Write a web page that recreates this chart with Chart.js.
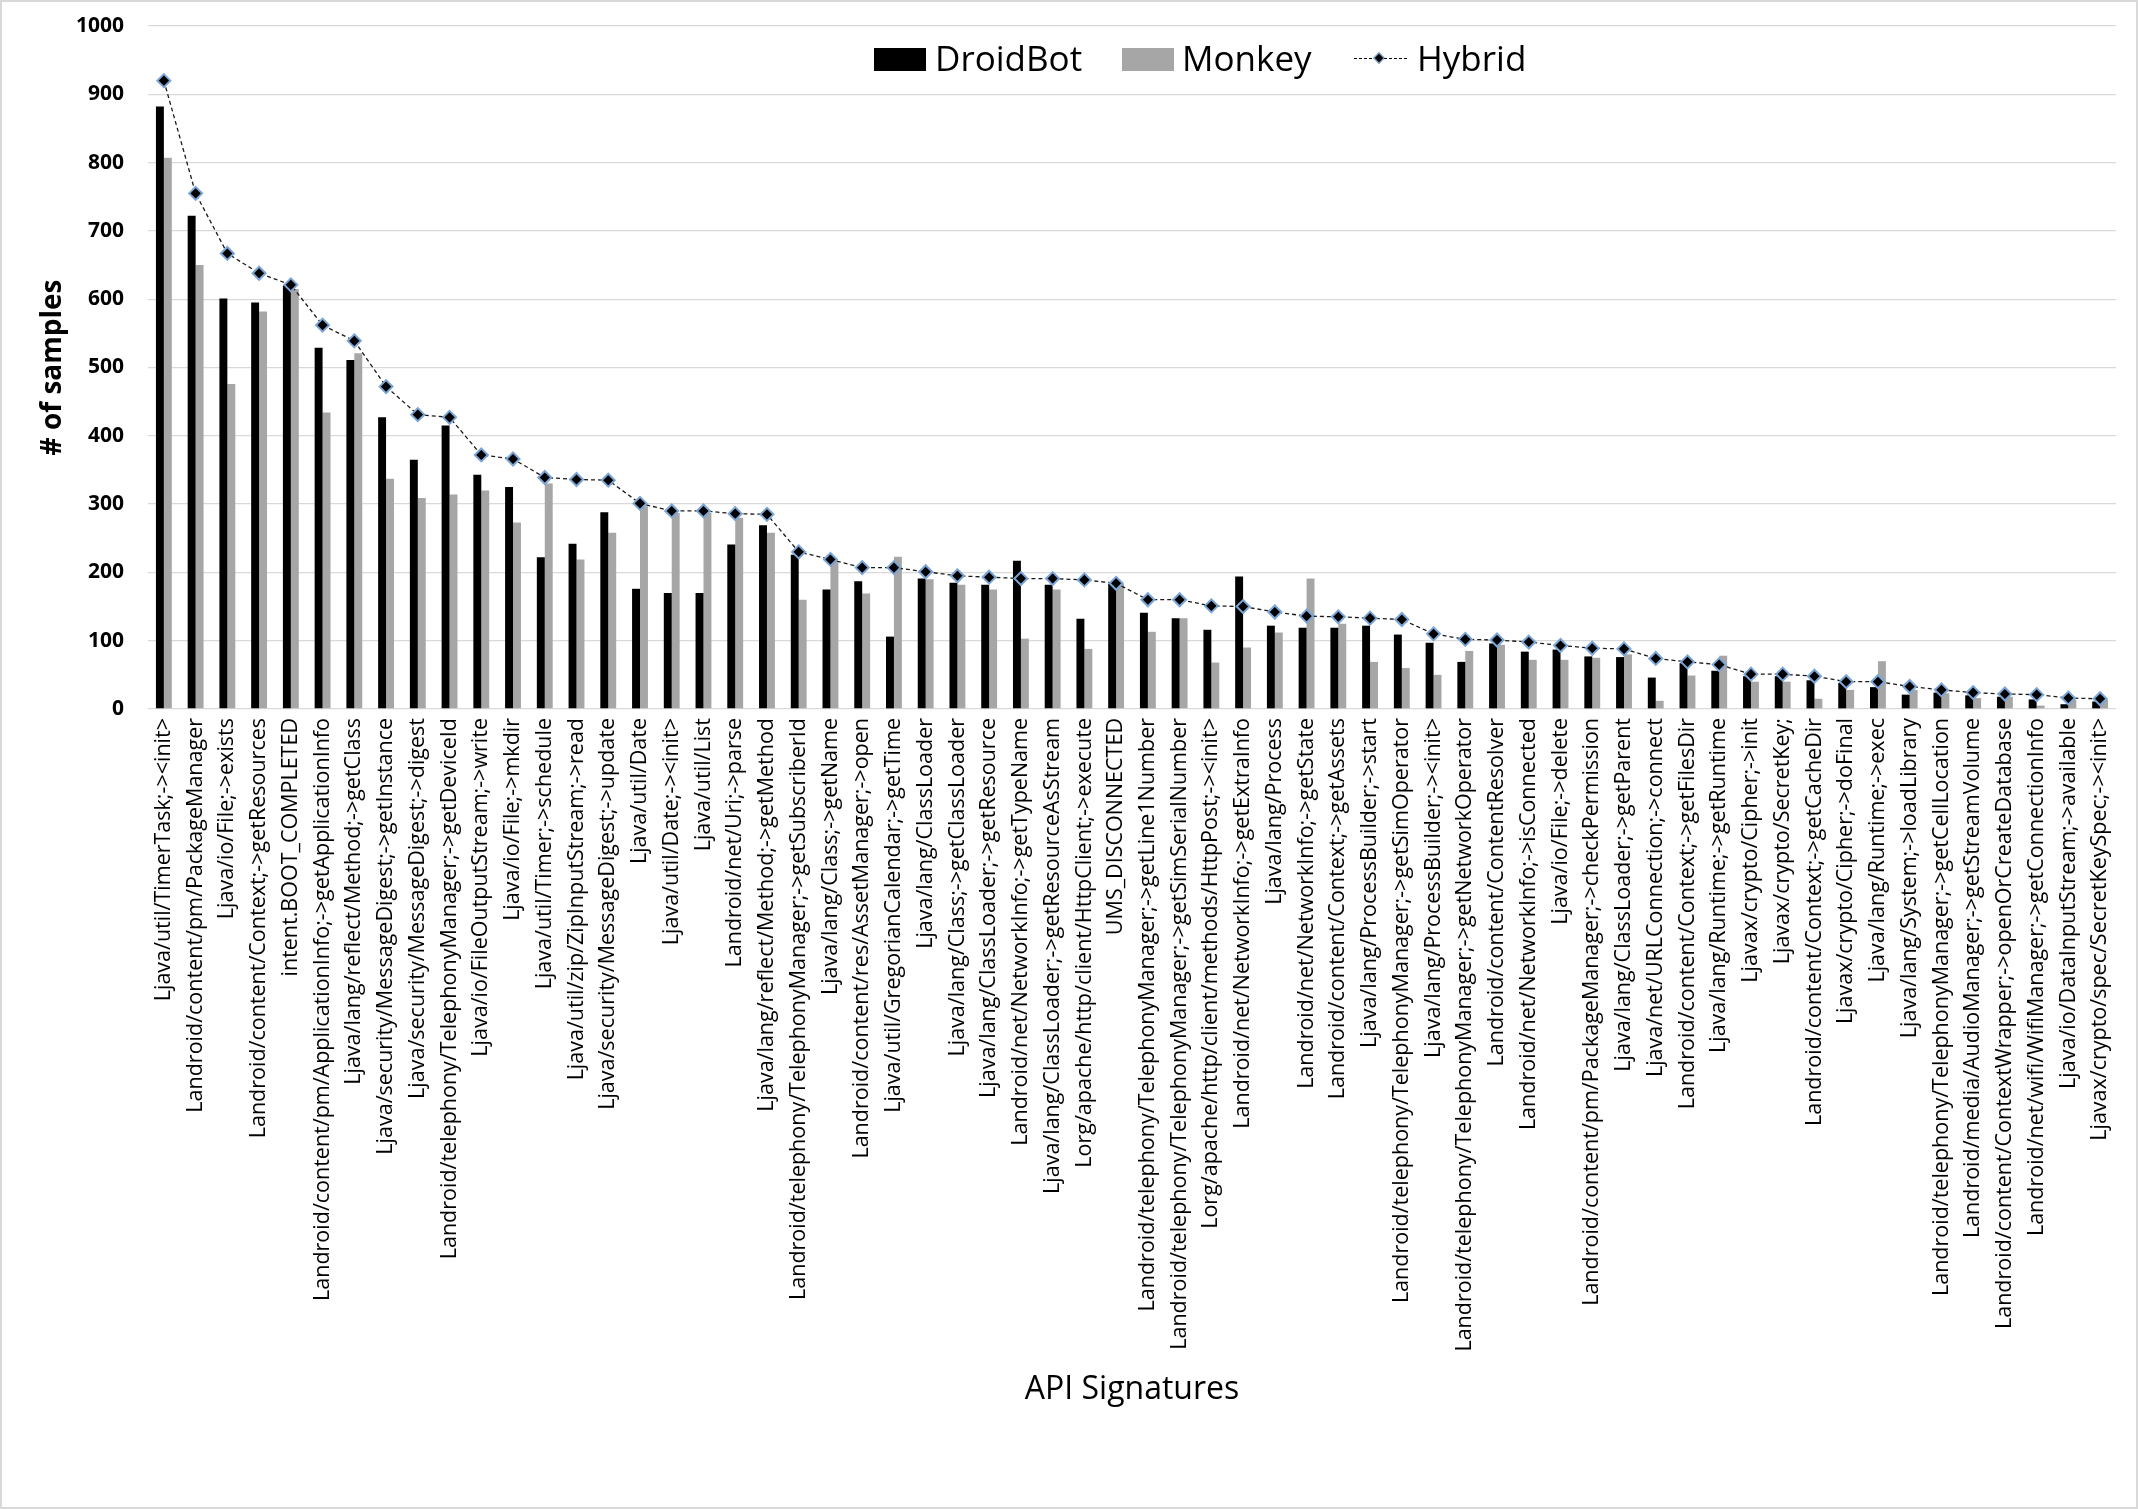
<!DOCTYPE html>
<html lang="en">
<head>
    <meta charset="UTF-8">
    <title>API Signatures - DroidBot / Monkey / Hybrid</title>
    <script src="https://cdn.jsdelivr.net/npm/chart.js"></script>
    <style>
        body { margin: 0; background: #fff; }
        #wrap {
            position: relative; width: 2138px; height: 1509px;
            box-sizing: border-box; border: 2px solid #d9d9d9;
            font-family: "Open Sans", sans-serif; background: #fff;
        }
        #box { position: absolute; left: 0; top: 0; width: 2134px; height: 1505px; }
        .lg { position: absolute; top: 38px; font-size: 35px; line-height: 35px; color: #000; white-space: nowrap; }
        .sw { position: absolute; top: 46px; width: 52px; height: 23px; }
    </style>
</head>
<body>

<div id="wrap">
    <div id="box"><canvas id="chart"></canvas></div>

    <!-- legend sits inside the plot, like the original -->
    <div class="sw" style="left:872px; background:#000;"></div>
    <div class="lg" style="left:933px;">DroidBot</div>
    <div class="sw" style="left:1120px; background:#a6a6a6;"></div>
    <div class="lg" style="left:1180px;">Monkey</div>
    <div style="position:absolute; left:1352px; top:56px; width:53px; border-top:1.5px dashed #000;"></div>
    <div style="position:absolute; left:1373px; top:52px; width:6px; height:6px; background:#000; border:1.5px solid #7aa5d6; transform:rotate(45deg);"></div>
    <div class="lg" style="left:1415px;">Hybrid</div>
</div>

<script>
    const categories = [
        'Ljava/util/TimerTask;-><init>',
        'Landroid/content/pm/PackageManager',
        'Ljava/io/File;->exists',
        'Landroid/content/Context;->getResources',
        'intent.BOOT_COMPLETED',
        'Landroid/content/pm/ApplicationInfo;->getApplicationInfo',
        'Ljava/lang/reflect/Method;->getClass',
        'Ljava/security/MessageDigest;->getInstance',
        'Ljava/security/MessageDigest;->digest',
        'Landroid/telephony/TelephonyManager;->getDeviceId',
        'Ljava/io/FileOutputStream;->write',
        'Ljava/io/File;->mkdir',
        'Ljava/util/Timer;->schedule',
        'Ljava/util/zip/ZipInputStream;->read',
        'Ljava/security/MessageDigest;->update',
        'Ljava/util/Date',
        'Ljava/util/Date;-><init>',
        'Ljava/util/List',
        'Landroid/net/Uri;->parse',
        'Ljava/lang/reflect/Method;->getMethod',
        'Landroid/telephony/TelephonyManager;->getSubscriberId',
        'Ljava/lang/Class;->getName',
        'Landroid/content/res/AssetManager;->open',
        'Ljava/util/GregorianCalendar;->getTime',
        'Ljava/lang/ClassLoader',
        'Ljava/lang/Class;->getClassLoader',
        'Ljava/lang/ClassLoader;->getResource',
        'Landroid/net/NetworkInfo;->getTypeName',
        'Ljava/lang/ClassLoader;->getResourceAsStream',
        'Lorg/apache/http/client/HttpClient;->execute',
        'UMS_DISCONNECTED',
        'Landroid/telephony/TelephonyManager;->getLine1Number',
        'Landroid/telephony/TelephonyManager;->getSimSerialNumber',
        'Lorg/apache/http/client/methods/HttpPost;-><init>',
        'Landroid/net/NetworkInfo;->getExtraInfo',
        'Ljava/lang/Process',
        'Landroid/net/NetworkInfo;->getState',
        'Landroid/content/Context;->getAssets',
        'Ljava/lang/ProcessBuilder;->start',
        'Landroid/telephony/TelephonyManager;->getSimOperator',
        'Ljava/lang/ProcessBuilder;-><init>',
        'Landroid/telephony/TelephonyManager;->getNetworkOperator',
        'Landroid/content/ContentResolver',
        'Landroid/net/NetworkInfo;->isConnected',
        'Ljava/io/File;->delete',
        'Landroid/content/pm/PackageManager;->checkPermission',
        'Ljava/lang/ClassLoader;->getParent',
        'Ljava/net/URLConnection;->connect',
        'Landroid/content/Context;->getFilesDir',
        'Ljava/lang/Runtime;->getRuntime',
        'Ljavax/crypto/Cipher;->init',
        'Ljavax/crypto/SecretKey;',
        'Landroid/content/Context;->getCacheDir',
        'Ljavax/crypto/Cipher;->doFinal',
        'Ljava/lang/Runtime;->exec',
        'Ljava/lang/System;->loadLibrary',
        'Landroid/telephony/TelephonyManager;->getCellLocation',
        'Landroid/media/AudioManager;->getStreamVolume',
        'Landroid/content/ContextWrapper;->openOrCreateDatabase',
        'Landroid/net/wifi/WifiManager;->getConnectionInfo',
        'Ljava/io/DataInputStream;->available',
        'Ljavax/crypto/spec/SecretKeySpec;-><init>'
    ];

    const droidBot = [882, 722, 601, 595, 620, 529, 511, 427, 365, 415, 343, 325, 222, 242, 288, 176,
        170, 170, 241, 269, 226, 175, 187, 106, 191, 185, 182, 217, 182, 132, 183, 141, 133, 116, 194, 122,
        119, 119, 122, 109, 97, 69, 96, 84, 87, 77, 76, 46, 67, 56, 48, 48, 42, 38, 32, 21, 24, 20, 18, 14, 7, 11];

    const monkey = [807, 650, 476, 582, 615, 434, 521, 337, 309, 314, 320, 273, 330, 219, 258, 297,
        287, 287, 280, 258, 160, 216, 169, 223, 190, 182, 175, 103, 175, 88, 183, 113, 133, 68, 90, 112,
        191, 125, 69, 60, 50, 85, 94, 72, 72, 75, 80, 12, 49, 78, 40, 40, 15, 28, 70, 28, 23, 16, 18, 5, 14, 14];

    const hybrid = [920, 755, 667, 638, 621, 562, 539, 472, 431, 427, 372, 366, 339, 336, 335, 301,
        290, 290, 286, 285, 230, 219, 207, 207, 201, 195, 193, 191, 191, 189, 184, 160, 160, 151, 150, 142,
        136, 135, 133, 131, 110, 102, 101, 98, 93, 89, 88, 74, 69, 65, 51, 51, 48, 40, 40, 33, 28, 24, 22, 21, 16, 15];

    const yMax = 1000;
    const yStep = 100;

    const font = 'Open Sans';

    new Chart(document.getElementById('chart'), {
        data: {
            labels: categories,
            datasets: [
                {
                    type: 'line',
                    label: 'Hybrid',
                    data: hybrid,
                    borderColor: '#1a1a1a',
                    borderWidth: 1.3,
                    borderDash: [4, 3],
                    tension: 0,
                    fill: false,
                    pointStyle: 'rectRot',
                    pointRadius: 6.5,
                    pointBackgroundColor: '#000',
                    pointBorderColor: '#7aa5d6',
                    pointBorderWidth: 2,
                    order: 0
                },
                {
                    type: 'bar',
                    label: 'DroidBot',
                    data: droidBot,
                    backgroundColor: '#000',
                    categoryPercentage: 0.5,
                    barPercentage: 1.0,
                    order: 1
                },
                {
                    type: 'bar',
                    label: 'Monkey',
                    data: monkey,
                    backgroundColor: '#a6a6a6',
                    categoryPercentage: 0.5,
                    barPercentage: 1.0,
                    order: 2
                }
            ]
        },
        options: {
            responsive: true,
            maintainAspectRatio: false,
            animation: false,
            layout: { padding: { left: 0, right: 20, top: 24, bottom: 0 } },
            plugins: {
                legend: { display: false },
                tooltip: { enabled: false }
            },
            scales: {
                x: {
                    offset: true,
                    grid: { display: false, drawTicks: false },
                    border: { display: false },
                    ticks: {
                        autoSkip: false,
                        minRotation: 90,
                        maxRotation: 90,
                        padding: 9,
                        color: '#000',
                        font: { family: font, size: 21.5 }
                    },
                    title: {
                        display: true,
                        text: 'API Signatures',
                        color: '#000',
                        font: { family: font, size: 32 },
                        padding: { top: 0, bottom: 98 }
                    },
                    afterFit: (scale) => {
                        scale.height = 798;
                        scale.paddingLeft = 0;
                        scale.paddingRight = 0;
                    }
                },
                y: {
                    min: 0,
                    max: yMax,
                    grid: { color: '#d9d9d9', lineWidth: 1.3, drawTicks: false },
                    border: { display: false },
                    ticks: {
                        stepSize: yStep,
                        padding: 24,
                        color: '#000',
                        font: { family: font, size: 21, weight: 'bold' },
                        callback: (v) => String(v)
                    },
                    title: {
                        display: true,
                        text: '# of samples',
                        color: '#000',
                        font: { family: font, size: 28, weight: 'bold' },
                        padding: { top: 34, bottom: 0 }
                    },
                    // tick padding would otherwise push the plot top down
                    afterFit: (scale) => {
                        scale.width = 146;
                        scale.paddingTop = 0;
                        scale.paddingBottom = 0;
                    }
                }
            }
        }
    });
</script>

</body>
</html>
